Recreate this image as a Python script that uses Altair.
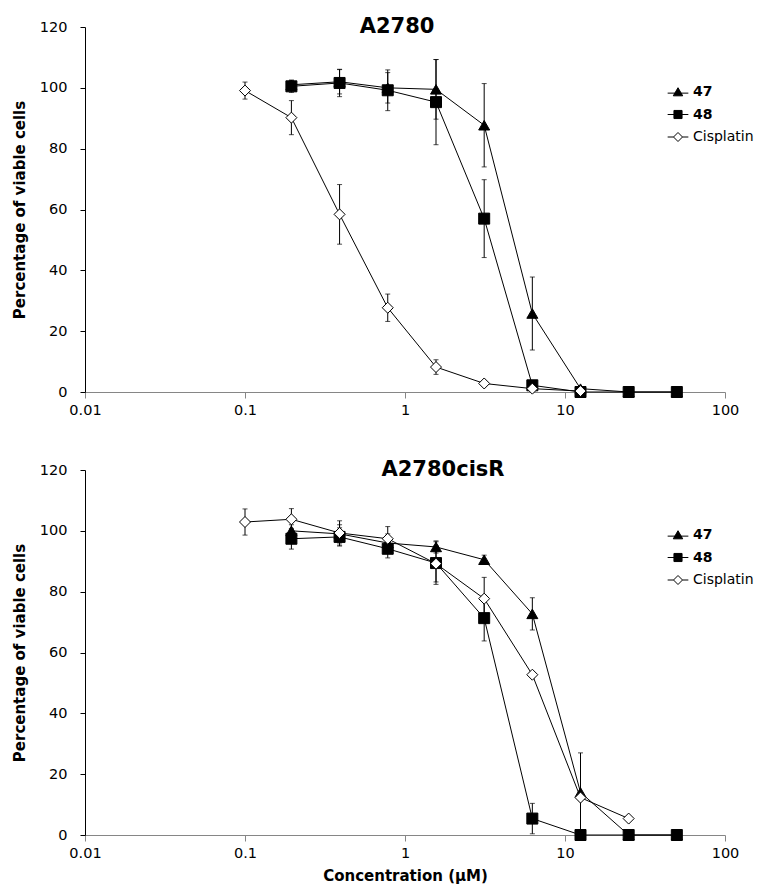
import altair as alt
import pandas as pd

# Concentrations (µM)
conc = [0.1, 0.195, 0.39, 0.78, 1.5625, 3.125, 6.25, 12.5, 25, 50]
series_names = ["47", "48", "Cisplatin"]
x_ticks = [0.01, 0.1, 1, 10, 100]
y_ticks = [0, 20, 40, 60, 80, 100, 120]

# Panel A2780
a_47 = [None, 101, 102, 100, 99.5, 87.7, 25.8, 1.1, 0, 0]
a_47_err = [None, 1.5, 4, 5, 9.8, 13.7, 12, 0.5, 0, 0]
a_48 = [None, 100.5, 101.6, 99.2, 95.3, 57, 2.2, 0, 0, 0]
a_48_err = [None, 2, 4.5, 6.7, 14, 12.8, 1, 0, 0, 0]
a_cis = [99.1, 90.2, 58.4, 27.7, 8.2, 2.8, 1.1, 0.3, None, None]
a_cis_err = [2.8, 5.6, 9.8, 4.5, 2.4, 0.8, 0.5, 0.3, None, None]

# Panel A2780cisR
b_47 = [None, 100, 99, 96, 94.7, 90.5, 72.7, 14, 0, 0]
b_47_err = [None, 2, 3, 3, 2, 1.5, 5.3, 13, 0, 0]
b_48 = [None, 97.4, 98, 94.1, 89.4, 71.3, 5.4, 0, 0, 0]
b_48_err = [None, 3.4, 3, 3, 7, 7.5, 5, 0, 0, 0]
b_cis = [102.9, 103.8, 99.3, 97.4, 89.2, 77.7, 52.7, 12.3, 5.4, None]
b_cis_err = [4.3, 3.5, 4, 4, 6, 7, 1, 1, 0.5, None]

FONT = "DejaVu Sans"

# legend glyphs: marker with a short line segment through it
LEGEND_SHAPES = [
    "M-2.3,0.25H2.3M0,-0.95L1.05,0.85L-1.05,0.85Z",
    "M-2.3,0H2.3M-0.9,-0.9H0.9V0.9H-0.9Z",
    "M-2.3,0H-1M1,0H2.3M0,-1L1,0L0,1L-1,0Z",
]


def make_df(vals, errs):
    rows = []
    for s, v_list, e_list in zip(series_names, vals, errs):
        for c, v, e in zip(conc, v_list, e_list):
            if v is None:
                continue
            rows.append({"series": s, "conc": c, "value": v,
                         "lo": max(v - e, 0), "hi": v + e})
    return pd.DataFrame(rows)


def panel(df, title_text, title_x, x_title):
    xscale = alt.Scale(type="log", domain=[0.01, 100])
    yscale = alt.Scale(domain=[0, 120])
    x_axis = alt.Axis(values=x_ticks, format="~g", grid=False,
                      domainColor="#868686", tickColor="#868686",
                      tickSize=6, labelPadding=5, titlePadding=9,
                      labelFlush=False,
                      labelFontSize=14.5, titleFontSize=15)
    y_axis = alt.Axis(values=y_ticks, grid=False, domainColor="black",
                      tickColor="black", tickSize=5, labelPadding=13,
                      titlePadding=12, labelFontSize=14.5, titleFontSize=15)
    x = alt.X("conc:Q", scale=xscale, axis=x_axis, title=x_title)
    y = alt.Y("value:Q", scale=yscale, axis=y_axis,
              title="Percentage of viable cells")
    base = alt.Chart(df)

    lines = base.mark_line(color="black", strokeWidth=1).encode(
        x=x, y=y, detail="series:N")
    rules = base.mark_rule(color="black", strokeWidth=1).encode(
        x=x, y=alt.Y("lo:Q", scale=yscale), y2="hi:Q")
    cap_lo = base.mark_tick(color="black", thickness=1, size=5,
                            orient="horizontal").encode(
        x=x, y=alt.Y("lo:Q", scale=yscale))
    cap_hi = base.mark_tick(color="black", thickness=1, size=5,
                            orient="horizontal").encode(
        x=x, y=alt.Y("hi:Q", scale=yscale))

    points = base.mark_point(filled=True, strokeWidth=1,
                             opacity=1, size=121).encode(
        x=x, y=y,
        shape=alt.Shape("series:N",
                        scale=alt.Scale(domain=series_names,
                                        range=["triangle-up", "square", "diamond"]),
                        legend=None),
        fill=alt.Fill("series:N",
                      scale=alt.Scale(domain=series_names,
                                      range=["black", "black", "white"]),
                      legend=None),
        stroke=alt.Stroke("series:N",
                          scale=alt.Scale(domain=series_names,
                                          range=["black", "black", "black"]),
                          legend=None),
    )

    legend = alt.Legend(
        title=None, orient="none", legendX=586, legendY=58, padding=0,
        labelFont=FONT, labelFontSize=14, labelColor="black",
        labelFontWeight=alt.ExprRef("datum.label == 'Cisplatin' ? 'normal' : 'bold'"),
        symbolSize=81, symbolStrokeColor="black", symbolStrokeWidth=1,
        rowPadding=8.5, labelOffset=8)
    legend_layer = base.mark_point(filled=True, strokeWidth=1, opacity=1,
                                   size=0).encode(
        x=x, y=y,
        shape=alt.Shape("series:N",
                        scale=alt.Scale(domain=series_names, range=LEGEND_SHAPES),
                        legend=legend),
        fill=alt.Fill("series:N",
                      scale=alt.Scale(domain=series_names,
                                      range=["black", "black", "white"]),
                      legend=legend),
        stroke=alt.Stroke("series:N",
                          scale=alt.Scale(domain=series_names,
                                          range=["black", "black", "black"]),
                          legend=legend),
    )

    title = alt.Chart(pd.DataFrame({"t": [title_text]})).mark_text(
        font=FONT, fontSize=21, fontWeight="bold", color="black",
        baseline="alphabetic", align="center").encode(
        text="t:N", x=alt.value(title_x), y=alt.value(6))
    return alt.layer(lines, rules, cap_lo, cap_hi, points, legend_layer,
                     title).resolve_scale(
        shape="independent", fill="independent", stroke="independent"
    ).properties(width=640, height=365)


top = panel(make_df([a_47, a_48, a_cis], [a_47_err, a_48_err, a_cis_err]),
            "A2780", 312, None)
bottom = panel(make_df([b_47, b_48, b_cis], [b_47_err, b_48_err, b_cis_err]),
               "A2780cisR", 358, "Concentration (µM)")

chart = alt.vconcat(top, bottom, spacing=42).properties(
    padding={"left": 4, "top": 8, "right": 0, "bottom": 0}
).configure_view(stroke=None).configure_axis(
    labelFont=FONT, titleFont=FONT, labelColor="black", titleColor="black",
    titleFontWeight="bold", domainWidth=1, tickWidth=1
)

chart.save("out.html", embed_options={"renderer": "svg", "actions": False})
